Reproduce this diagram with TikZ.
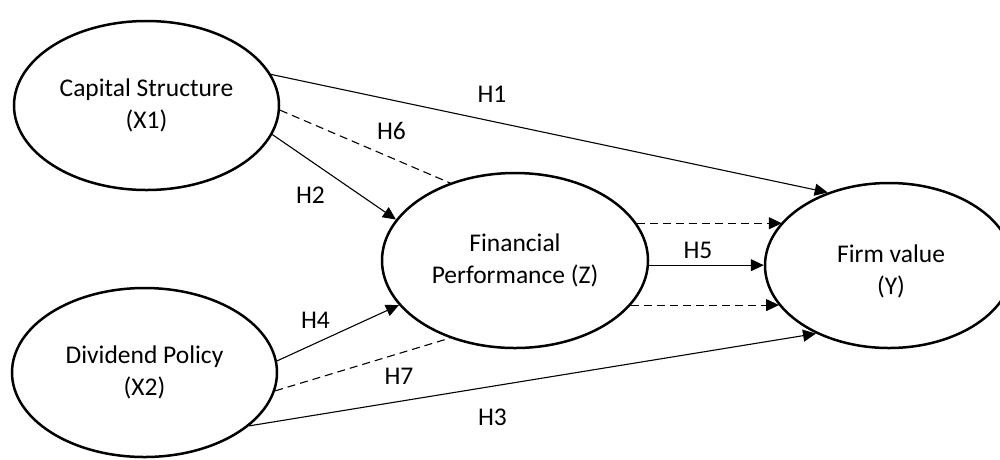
\documentclass[tikz,border=0pt]{standalone}
\usepackage{fontspec}
\setmainfont{Carlito}
\usetikzlibrary{arrows.meta,shapes.geometric}
\begin{document}
\begin{tikzpicture}[x=1pt,y=-1pt,
  construct/.style={draw, ellipse, line width=2.5pt, inner sep=0pt, align=center,
    font=\fontsize{25.5}{32.5}\selectfont},
  link/.style={line width=1.1pt},
  effect/.style={link, -{Triangle[length=13pt,width=12pt]}},
  mediated/.style={link, dash pattern=on 8pt off 5pt},
  hyp/.style={font=\fontsize{25.5}{30}\selectfont, inner sep=0pt}]
\useasboundingbox (0,0) rectangle (1000,459);
\clip (0,0) rectangle (1000,459);

% latent constructs
\node[construct, minimum width=265pt, minimum height=169pt] (cs) at (146.5,105.5) {Capital Structure\\(X1)};
\node[construct, minimum width=265pt, minimum height=169pt] (dp) at (144.5,372.5) {Dividend Policy\\(X2)};
\node[construct, minimum width=266pt, minimum height=175pt] (fp) at (515,260.5) {Financial\\Performance (Z)};
\node[construct, minimum width=248pt, minimum height=165pt,
  label={[name=fvtext, align=center, font=\fontsize{25.5}{32.5}\selectfont, yshift=-6pt, xshift=2pt]center:Firm value\\(Y)}] (fv) at (889,265.5) {};

% direct and mediated paths
\draw[effect] (cs.14) -- (fv.130);
\draw[mediated] (cs.-2) -- (fp.130);
\draw[effect] (cs.-13) -- (fp.161);
\draw[effect] (dp.5) -- (fp.201);
\draw[mediated] (dp.-8) -- (fp.230);
\draw[effect] (dp.-27) -- (fv.223);
\draw[effect, mediated] (fp.17) -- (fp.17 -| fv.158);
\draw[effect] (fp.-2) -- (fp.-2 -| fv.west);
\draw[effect, mediated] (fp.-21) -- (fp.-21 -| fv.200);

% hypothesis labels
\node[hyp] (h1) at (492,94) {H1};
\node[hyp] (h6) at (391.5,130.5) {H6};
\node[hyp] (h2) at (310.5,195.5) {H2};
\node[hyp] (h5) at (698,250) {H5};
\node[hyp] (h4) at (315.5,320) {H4};
\node[hyp] (h7) at (399,376) {H7};
\node[hyp] (h3) at (492.5,417.5) {H3};
\end{tikzpicture}
\end{document}
